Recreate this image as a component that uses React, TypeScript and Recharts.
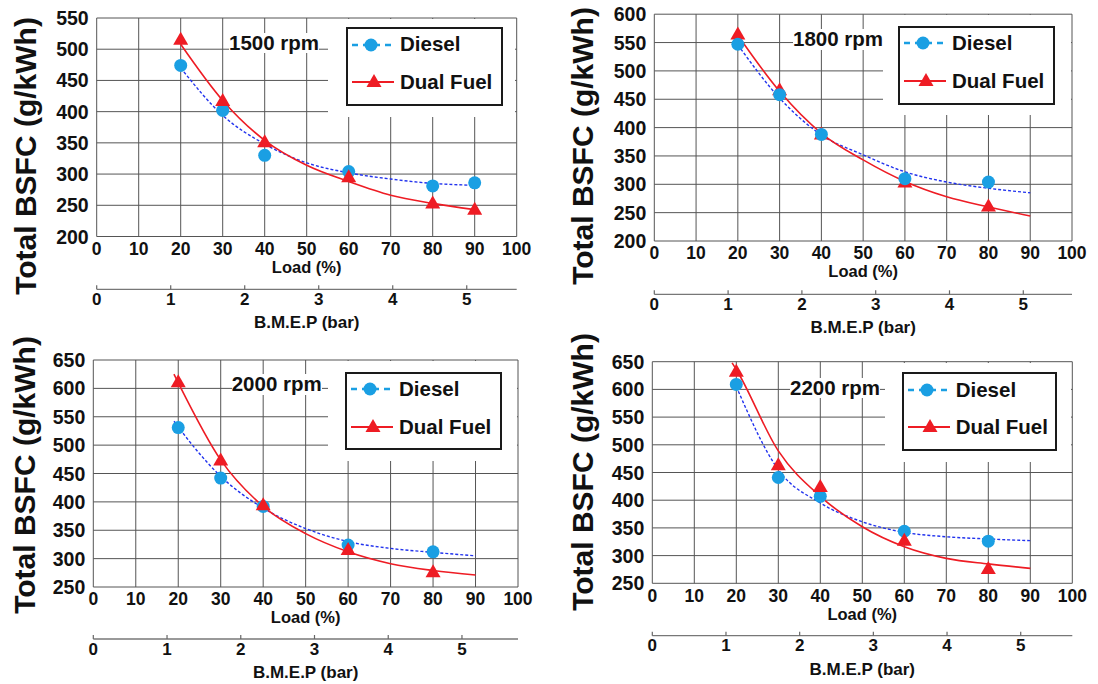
import React from 'react'
import { ComposedChart, Line, Scatter, XAxis, YAxis, CartesianGrid, Legend } from 'recharts'

const FONT = '"Liberation Sans", Arial, Helvetica, sans-serif'

// Shared axes
const loadTicks = [0, 10, 20, 30, 40, 50, 60, 70, 80, 90, 100]
const bmepTicks = [0, 1, 2, 3, 4, 5]
const yTicks200to550 = [200, 250, 300, 350, 400, 450, 500, 550]
const yTicks200to600 = [200, 250, 300, 350, 400, 450, 500, 550, 600]
const yTicks250to650 = [250, 300, 350, 400, 450, 500, 550, 600, 650]

// 1500 rpm
const markLoad1500 = [20, 30, 40, 60, 80, 90]
const diesel1500 = [474, 402, 330, 304, 281, 286]
const dual1500 = [515, 417, 351, 295, 253, 243]
const fitLoad1500 = [20, 30, 40, 50, 60, 70, 80, 90]
const dieselFit1500 = [470, 394, 348, 318, 302, 292, 285, 282]
const dualFit1500 = [508, 418, 354, 314, 288, 266, 253, 243]

// 1800 rpm
const markLoad1800 = [20, 30, 40, 60, 80]
const diesel1800 = [547, 458, 388, 310, 304]
const dual1800 = [564, 466, 388, 303, 261]
const fitLoad1800 = [20, 30, 40, 50, 60, 70, 80, 90]
const dieselFit1800 = [546, 452, 387, 352, 322, 304, 293, 285]
const dualFit1800 = [563, 464, 390, 343, 305, 278, 260, 244]

// 2000 rpm
const markLoad2000 = [20, 30, 40, 60, 80]
const diesel2000 = [531, 442, 392, 324, 312]
const dual2000 = [611, 473, 394, 315, 276]
const fitLoad2000 = [19, 20, 30, 40, 50, 60, 70, 80, 90]
const dieselFit2000 = [542, 532, 445, 389, 353, 330, 318, 311, 305]
const dualFit2000 = [625, 610, 474, 392, 344, 312, 291, 279, 271]

// 2200 rpm
const markLoad2200 = [20, 30, 40, 60, 80]
const diesel2200 = [609, 441, 407, 344, 326]
const dual2200 = [632, 463, 424, 327, 276]
const dieselFitLoad2200 = [20, 30, 40, 50, 60, 70, 80, 90]
const dieselFit2200 = [605, 455, 395, 361, 342, 334, 330, 327]
const dualFitLoad2200 = [19, 20, 30, 40, 50, 60, 70, 80, 90]
const dualFit2200 = [648, 636, 489, 407, 352, 316, 295, 285, 277]

const toRows = (xs: number[], ys: number[]) => xs.map((x, i) => ({ x, y: ys[i] }))

const DIESEL_MARK = '#1a9fe3'
const DIESEL_LINE = '#2233ee'
const DUAL_COLOR = '#ee1c24'
const GRID = '#555'

const panels = [
  {
    rpm: '1500 rpm', yTicks: yTicks200to550,
    markLoad: markLoad1500, diesel: diesel1500, dual: dual1500,
    dieselFitLoad: fitLoad1500, dieselFit: dieselFit1500, dualFitLoad: fitLoad1500, dualFit: dualFit1500,
    bmepMax: 5.675, dieselOnTop: false,
    box: { x: 0, y: 0, w: 548, h: 335 }, plot: { L: 96.7, R: 516.7, T: 18, B: 236.5 }, bmepY: 289.3,
    title: { x: 36, y: 156 }, legend: { x: 346, y: 27, w: 157, h: 79 }, mask: { x: 328, bottom: 117 }, rpmPos: { x: 229, y: 43 },
  },
  {
    rpm: '1800 rpm', yTicks: yTicks200to600,
    markLoad: markLoad1800, diesel: diesel1800, dual: dual1800,
    dieselFitLoad: fitLoad1800, dieselFit: dieselFit1800, dualFitLoad: fitLoad1800, dualFit: dualFit1800,
    bmepMax: 5.66, dieselOnTop: true,
    box: { x: 549, y: 0, w: 549, h: 340 }, plot: { L: 654.3, R: 1072, T: 14.2, B: 241 }, bmepY: 294.3,
    title: { x: 593.3, y: 146 }, legend: { x: 898, y: 26, w: 157, h: 79 }, mask: { x: 883, bottom: 115 }, rpmPos: { x: 793, y: 39.3 },
  },
  {
    rpm: '2000 rpm', yTicks: yTicks250to650,
    markLoad: markLoad2000, diesel: diesel2000, dual: dual2000,
    dieselFitLoad: fitLoad2000, dieselFit: dieselFit2000, dualFitLoad: fitLoad2000, dualFit: dualFit2000,
    bmepMax: 5.76, dieselOnTop: false,
    box: { x: 0, y: 325, w: 548, h: 359 }, plot: { L: 93.3, R: 518, T: 360, B: 587 }, bmepY: 639,
    title: { x: 35, y: 475 }, legend: { x: 345, y: 371.7, w: 157, h: 78.5 }, mask: { x: 328, bottom: 461 }, rpmPos: { x: 231.7, y: 384.3 },
  },
  {
    rpm: '2200 rpm', yTicks: yTicks250to650,
    markLoad: markLoad2200, diesel: diesel2200, dual: dual2200,
    dieselFitLoad: dieselFitLoad2200, dieselFit: dieselFit2200, dualFitLoad: dualFitLoad2200, dualFit: dualFit2200,
    bmepMax: 5.7, dieselOnTop: false,
    box: { x: 549, y: 325, w: 549, h: 359 }, plot: { L: 652.3, R: 1072.3, T: 361.7, B: 583.3 }, bmepY: 635.7,
    title: { x: 593.3, y: 472 }, legend: { x: 901.7, y: 372.3, w: 155, h: 78.7 }, mask: { x: 885, bottom: 461.7 }, rpmPos: { x: 790, y: 387.7 },
  },
]

type PanelCfg = (typeof panels)[number]

const Circle = (props: any) => <circle cx={props.cx} cy={props.cy} r={6.5} fill={DIESEL_MARK} />
const Triangle = (props: any) => {
  const { cx, cy } = props
  return <polygon points={`${cx},${cy - 8} ${cx + 7.5},${cy + 5} ${cx - 7.5},${cy + 5}`} fill={DUAL_COLOR} />
}

function LegendBox({ p }: { p: PanelCfg }) {
  const mx = p.mask.x
  const my = p.plot.T + 1
  const lg = p.legend
  const rows = [
    { name: 'Diesel', cy: 17.5 },
    { name: 'Dual Fuel', cy: 55 },
  ]
  return (
    <div style={{ position: 'relative', width: '100%', height: '100%', fontFamily: FONT, color: '#111' }}>
      <span
        style={{
          position: 'absolute', left: p.rpmPos.x - mx, top: p.rpmPos.y - my - 0.49 * 20.5,
          fontSize: 20.5, fontWeight: 700, lineHeight: 1, background: '#fff', whiteSpace: 'nowrap',
        }}
      >
        {p.rpm}
      </span>
      <div
        style={{
          position: 'absolute', left: lg.x - mx, top: lg.y - my, width: lg.w, height: lg.h,
          boxSizing: 'border-box', border: '2px solid #1a1a1a', background: '#fff',
        }}
      >
        {rows.map((r, i) => (
          <React.Fragment key={r.name}>
            <svg width={46} height={20} style={{ position: 'absolute', left: 3, top: r.cy - 2 - 10 }}>
              {i === 0 ? (
                <>
                  <line x1={1} y1={10} x2={43} y2={10} stroke={DIESEL_MARK} strokeWidth={2.5} strokeDasharray="6 5" />
                  <circle cx={20} cy={10} r={6.5} fill={DIESEL_MARK} />
                </>
              ) : (
                <>
                  <line x1={1} y1={10} x2={43} y2={10} stroke={DUAL_COLOR} strokeWidth={2} />
                  <polygon points="23,2 30.5,15 15.5,15" fill={DUAL_COLOR} />
                </>
              )}
            </svg>
            <span
              style={{
                position: 'absolute', left: 52, top: r.cy - 2 - 0.49 * 20.5,
                fontSize: 20.5, fontWeight: 700, lineHeight: 1, whiteSpace: 'nowrap',
              }}
            >
              {r.name}
            </span>
          </React.Fragment>
        ))}
      </div>
    </div>
  )
}

function BsfcPanel({ p }: { p: PanelCfg }) {
  const { box, plot } = p
  const margin = { top: plot.T - box.y, right: box.x + box.w - plot.R, bottom: 0, left: 0 }
  const yAxisW = plot.L - box.x
  const loadAxisH = p.bmepY - plot.B
  const bmepAxisH = box.y + box.h - p.bmepY
  const cx = (plot.L + plot.R) / 2 - box.x
  const localB = plot.B - box.y
  const localBmep = p.bmepY - box.y

  const yTick = (t: any) => (
    <text x={t.x - 8} y={t.y + 0.36 * 19.5} textAnchor="end" fontSize={19.5} fontWeight="bold" fill="#111" fontFamily={FONT}>
      {t.payload.value}
    </text>
  )
  const xTick = (t: any) => (
    <text x={t.x} y={t.y + 12 + 0.36 * 17.5} textAnchor="middle" fontSize={17.5} fontWeight="bold" fill="#111" fontFamily={FONT}>
      {t.payload.value}
    </text>
  )
  const bmepTick = (t: any) => (
    <g>
      <line x1={t.x} x2={t.x} y1={t.y - 4} y2={t.y} stroke="#666" strokeWidth={1.2} />
      <text x={t.x} y={t.y + 9.5 + 0.36 * 17} textAnchor="middle" fontSize={17} fontWeight="bold" fill="#111" fontFamily={FONT}>
        {t.payload.value}
      </text>
    </g>
  )

  const dieselMarks = (
    <Scatter key="dm" data={toRows(p.markLoad, p.diesel)} shape={Circle} isAnimationActive={false} legendType="none" />
  )
  const dualMarks = (
    <Scatter key="fm" data={toRows(p.markLoad, p.dual)} shape={Triangle} isAnimationActive={false} legendType="none" />
  )

  const mx = p.mask.x
  const my = plot.T + 1

  return (
    <div style={{ position: 'absolute', left: box.x, top: box.y }}>
      <ComposedChart width={box.w} height={box.h} margin={margin}>
        <CartesianGrid stroke={GRID} strokeWidth={1} />
        <XAxis
          dataKey="x"
          type="number"
          domain={[0, 100]}
          ticks={loadTicks}
          interval={0}
          allowDataOverflow
          axisLine={false}
          tickLine={false}
          tickSize={0}
          tickMargin={0}
          height={loadAxisH}
          tick={xTick}
          label={() => (
            <text x={cx} y={localB + 30.5 + 0.36 * 16.5} textAnchor="middle" fontSize={16.5} fontWeight="bold" fill="#111" fontFamily={FONT}>
              Load (%)
            </text>
          )}
        />
        <XAxis
          xAxisId="bmep"
          dataKey="x"
          type="number"
          domain={[0, p.bmepMax]}
          ticks={bmepTicks}
          interval={0}
          allowDataOverflow
          axisLine={{ stroke: '#777', strokeWidth: 1.3 }}
          tickLine={false}
          tickSize={0}
          tickMargin={0}
          height={bmepAxisH}
          tick={bmepTick}
          label={() => (
            <text x={cx} y={localBmep + 32.7 + 0.36 * 17} textAnchor="middle" fontSize={17} fontWeight="bold" fill="#111" fontFamily={FONT}>
              B.M.E.P (bar)
            </text>
          )}
        />
        <YAxis
          dataKey="y"
          type="number"
          domain={[p.yTicks[0], p.yTicks[p.yTicks.length - 1]]}
          ticks={p.yTicks}
          interval={0}
          allowDataOverflow
          width={yAxisW}
          axisLine={false}
          tickLine={false}
          tickSize={0}
          tickMargin={0}
          tick={yTick}
          label={() => {
            const tx = p.title.x - box.x
            const ty = p.title.y - box.y
            return (
              <text x={tx} y={ty} transform={`rotate(-90 ${tx} ${ty})`} textAnchor="middle" fontSize={30} fontWeight="bold" fill="#111" fontFamily={FONT}>
                Total BSFC (g/kWh)
              </text>
            )
          }}
        />
        <Line
          data={toRows(p.dieselFitLoad, p.dieselFit)}
          dataKey="y"
          type="monotone"
          stroke={DIESEL_LINE}
          strokeWidth={1.4}
          strokeDasharray="3 2"
          dot={false}
          activeDot={false}
          legendType="none"
          isAnimationActive={false}
        />
        <Line
          data={toRows(p.dualFitLoad, p.dualFit)}
          dataKey="y"
          type="monotone"
          stroke={DUAL_COLOR}
          strokeWidth={1.6}
          dot={false}
          activeDot={false}
          legendType="none"
          isAnimationActive={false}
        />
        {p.dieselOnTop ? [dualMarks, dieselMarks] : [dieselMarks, dualMarks]}
        <Legend
          layout="horizontal"
          verticalAlign="middle"
          align="center"
          wrapperStyle={{
            left: mx - box.x,
            top: my - box.y,
            width: plot.R - 1.5 - mx,
            height: p.mask.bottom - my,
            background: '#fff',
            margin: 0,
            padding: 0,
          }}
          content={() => <LegendBox p={p} />}
        />
      </ComposedChart>
    </div>
  )
}

export default function App() {
  return (
    <div style={{ position: 'absolute', left: 0, top: 0, width: 1098, height: 684, background: '#fff', fontFamily: FONT }}>
      {panels.map((p) => (
        <BsfcPanel key={p.rpm} p={p} />
      ))}
    </div>
  )
}
